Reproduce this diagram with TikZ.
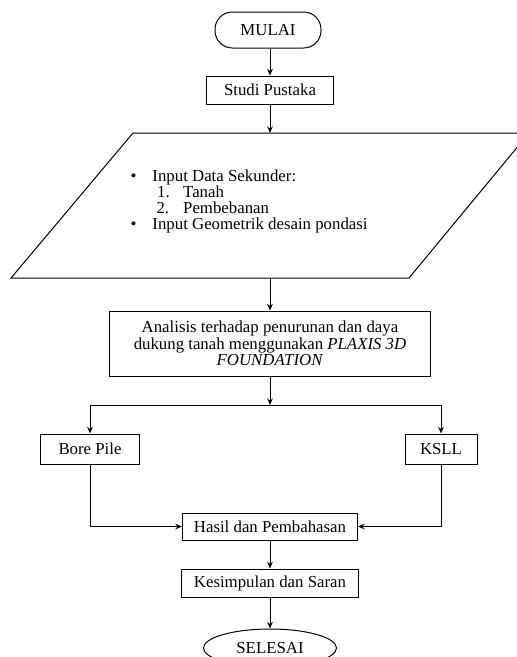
\documentclass[tikz,border=0pt]{standalone}
\usepackage{fontspec}
\setmainfont{Liberation Serif}
\usetikzlibrary{shapes.geometric,arrows.meta}

\begin{document}
\begin{tikzpicture}[x=0.75pt,y=-0.75pt,->,>={Stealth[length=5pt,width=4.2pt]},line width=0.75pt,
	procbox/.style={draw,-,rectangle,inner sep=2pt,align=center},
	termbox/.style={draw,-,inner sep=0pt},
	font=\fontsize{12.6}{12.2}\selectfont]
	\useasboundingbox (0,0) rectangle (517,657);
	\clip (0,0) rectangle (517,657);

	\node (mulai) [termbox,rounded corners=13pt,minimum width=79.5pt,minimum height=27pt] at (268,30) {MULAI};
	\node (studi) [procbox,minimum width=95.25pt,minimum height=21pt] at (270,90) {Studi Pustaka};

	% input data (parallelogram)
	\draw[-] (133,133) -- (529,133) -- (409,278) -- (11,278) -- cycle;
	\coordinate (inputtop) at (270,133);
	\coordinate (inputbot) at (270,278);
	\node (input) [anchor=north west,inner sep=0pt,align=left] at (130,169)
		{\makebox[16.5pt][l]{\textbullet}Input Data Sekunder:\\
		 \hspace*{20pt}\makebox[19.5pt][l]{1.}Tanah\\
		 \hspace*{19.5pt}\makebox[20pt][l]{2.}Pembebanan\\
		 \makebox[16.5pt][l]{\textbullet}Input Geometrik desain pondasi};

	\node (analisis) [procbox,minimum width=240.75pt,minimum height=48.75pt] at (270,343.5)
		{Analisis terhadap penurunan dan daya\\dukung tanah menggunakan \textit{PLAXIS 3D}\\\textit{FOUNDATION}};

	\coordinate (split) at (270,405);
	\coordinate (splitl) at (90,405);
	\coordinate (splitr) at (441,405);

	\node (bore) [procbox,minimum width=74.25pt,minimum height=22.5pt] at (90,449) {Bore Pile};
	\node (ksll) [procbox,minimum width=54pt,minimum height=22.5pt] at (441,449) {KSLL};
	\node (hasil) [procbox,minimum width=131.25pt,minimum height=20.25pt] at (270,526.5) {Hasil dan Pembahasan};
	\node (kesimpulan) [procbox,minimum width=132.75pt,minimum height=21pt] at (270,583) {Kesimpulan dan Saran};
	\node (selesai) [termbox,ellipse,minimum width=99.75pt,minimum height=28.5pt] at (270,648) {SELESAI};

	\draw (mulai.south -| studi.north) -- (studi.north);
	\draw (studi.south) -- (inputtop);
	\draw (inputbot) -- (analisis.north);
	\draw (analisis.south) -- (split);
	\draw[-] (splitl) -- (splitr);
	\draw (splitl) -- (bore.north);
	\draw (splitr) -- (ksll.north);
	\draw (bore.south) |- (hasil.west);
	\draw (ksll.south) |- (hasil.east);
	\draw (hasil.south) -- (kesimpulan.north);
	\draw (kesimpulan.south) -- (selesai.north);
\end{tikzpicture}
\end{document}
